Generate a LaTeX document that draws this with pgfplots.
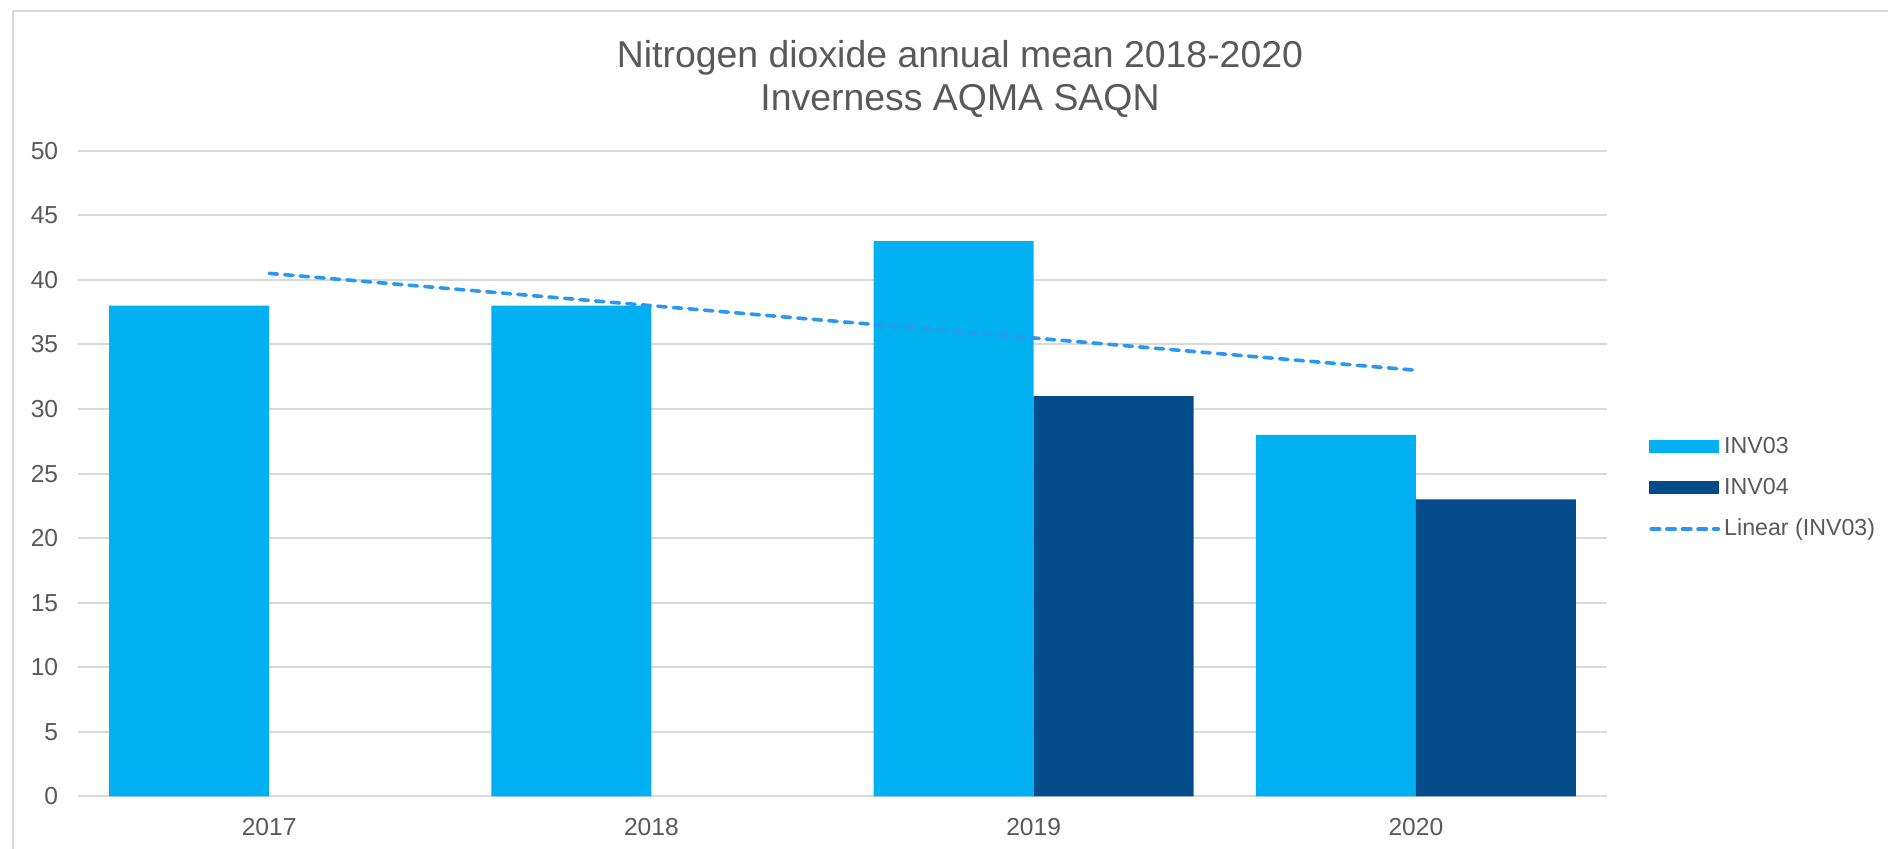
\documentclass[border=0pt]{standalone}
\usepackage{pgfplots}
\pgfplotsset{compat=1.18}
\usepackage{fontspec}
\setmainfont{Liberation Sans}
\definecolor{inv03}{HTML}{00B0F0}
\definecolor{inv04}{HTML}{044C8A}
\definecolor{trend}{HTML}{2A98F0}
\definecolor{txt}{HTML}{595959}
\definecolor{gridc}{HTML}{D9D9D9}

\begin{document}
\begin{tikzpicture}
\useasboundingbox (0,0) rectangle (944pt,424.5pt);
% outer chart frame (cut off at right and bottom)
\draw[gridc, line width=1pt] (6.5pt,0) -- (6.5pt,419pt) -- (944pt,419pt);
\node[align=center, text=txt, font=\fontsize{18.7}{21.5}\selectfont] at (480pt,385.2pt)
  {Nitrogen dioxide annual mean 2018-2020\\Inverness AQMA SAQN};
\begin{axis}[
    at={(39pt,26.25pt)}, anchor=south west,
    scale only axis, width=764.5pt, height=322.9pt,
    xmin=-0.5, xmax=3.5, ymin=0, ymax=50,
    xtick={0,1,2,3}, xticklabels={2017,2018,2019,2020},
    ytick={0,5,...,50},
    ymajorgrids, grid style={gridc, line width=1pt},
    axis line style={draw=none},
    tick style={draw=none},
    /pgf/number format/assume math mode=true,
    ticklabel style={font=\fontsize{12.3}{14}\selectfont, text=txt},
    yticklabel style={xshift=-6.4pt},
    xticklabel style={yshift=-7.5pt},
    legend style={at={(1,0.5)}, anchor=west, xshift=21pt, yshift=-7.2pt,
        draw=none, fill=none, inner sep=0pt, row sep=6.9pt,
        font=\fontsize{11.6}{14}\selectfont, text=txt},
    legend cell align=left,
]
\addplot[ybar, bar width=0.4186, bar shift=-0.2093, fill=inv03, draw=none,
    legend image code/.code={\fill (0pt,-3.4pt) rectangle (35pt,3.4pt);}]
    coordinates {(0,38) (1,38) (2,43) (3,28)};
\addlegendentry{INV03}
\addplot[ybar, bar width=0.4186, bar shift=0.2093, fill=inv04, draw=none,
    legend image code/.code={\fill (0pt,-3.4pt) rectangle (35pt,3.4pt);}]
    coordinates {(2,31) (3,23)};
\addlegendentry{INV04}
\addplot[trend, line width=1.8pt, line cap=round, dash pattern=on 4.2pt off 3.6pt,
    mark=none, sharp plot,
    legend image code/.code={\draw (0.9pt,0pt) -- (34.5pt,0pt);}]
    coordinates {(0,40.5) (1,38) (2,35.5) (3,33)};
\addlegendentry{Linear (INV03)}
\end{axis}
\end{tikzpicture}
\end{document}
